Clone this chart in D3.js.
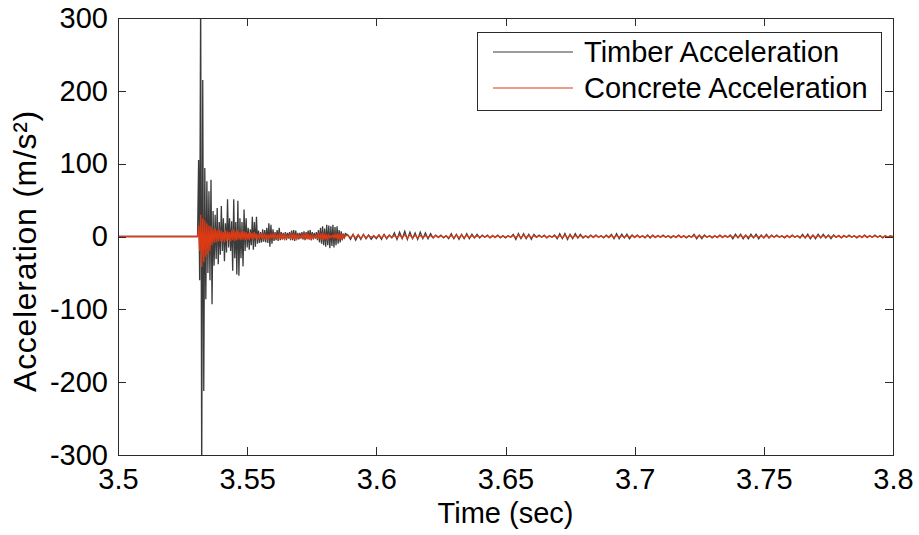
<!DOCTYPE html>
<html>
<head>
<meta charset="utf-8">
<script src="https://cdn.jsdelivr.net/npm/d3@7"></script>
<style>
  body { margin: 0; background: #fff; }
  svg { display: block; font-family: "Liberation Sans", Arial, sans-serif; }
</style>
</head>
<body>
<svg id="chart" width="919" height="535"></svg>
<script>
// ticks
const xTicks = [3.5, 3.55, 3.6, 3.65, 3.7, 3.75, 3.8];
const xTickLabels = ["3.5", "3.55", "3.6", "3.65", "3.7", "3.75", "3.8"];
const yTicks = [-300, -200, -100, 0, 100, 200, 300];
const yTickLabels = ["-300", "-200", "-100", "0", "100", "200", "300"];

// sampling of the three stretches of the record (start time, interval in s)
const segStart = [3.5, 3.53, 3.589];
const segStep = [0.01, 0.0004, 0.001];

// timber acceleration (m/s²)
const timberQuiet = [0, 0, 0];
const timberBurst = [
  0, 0, 0, 105, -60, 340, -340, 215, -212, 94,
  -86, 76, -50, 62, -60, 78, -93, 35, -40, 30,
  -31, 39, -38, 20, -25, 42, -20, 25, -34, 18,
  -22, 51, -15, 25, -20, 21, -47, 51, -30, 20,
  -52, 49, -54, 25, -30, 20, -41, 37, -20, 25,
  -15, 12, -18, 10, -12, 27, -18, 20, -14, 27,
  -10, 8, -9, 6, -8, 10, -7, 9, -8, 12,
  -9, 18, -14, 16, -10, 10, -6, 6, -5, 9,
  -6, 12, -5, 6, -4, 5, -4, 6, -5, 5,
  -3, 6, -5, 8, -5, 9, -6, 8, -4, 5,
  -4, 5, -3, 6, -4, 7, -5, 6, -3, 8,
  -4, 9, -5, 6, -4, 5, -3, 6, -5, 9,
  -8, 12, -10, 14, -12, 11, -14, 16, -12, 15,
  -16, 14, -13, 16, -15, 13, -12, 14, -10, 9,
  -8, 7, -5, 4, -3, 4
];
const timberTail = [
  2, -4, 3, -5, 2, -4, 3, -3, 2, -4, 1, -3, 2, -4, 3, -3, 2, -2,
  5, -4, 6, -3, 7, -4, 6, -3, 5, -4, 6, -3, 5, -3, 4,
  -2, 2, -1, 2, -2, 1,
  -3, 4, -3, 3, -4, 3, -3, 4, -3, 3, -2, 3, -2, 2,
  -1, 2, -2, 1, -1, 2, -2, 1, -2, 1, -1,
  3, -4, 4, -3, 4, -3, 3, -4, 3,
  -1, 2, -1, 2, -2, 1, -1, 2,
  -3, 4, -3, 4, -4, 3, -3, 4, -2, 3, -2,
  1, -2, 2, -1, 2, -1, 1, -2, 2, -1,
  3, -3, 4, -3, 3, -2, 3, -3, 2,
  -1, 2, -1, 1, -2,
  2, -2, 2, -1, 1,
  -1, 2, -1, 1, -2, 1, -1, 2, -1, 1, -2, 1, -1,
  3, -3, 2, -3, 2,
  -1, 1, -2, 1, -1, 2, -1, 1, -1, 2,
  -3, 3, -2, 3, -3, 2, -3, 3, -2, 3, -3, 2, -2, 3, -2, 2,
  -1, 2, -1, 1, -2, 1, -1, 2, -1, 1, -2,
  3, -2, 3, -3, 2, -3, 3, -2, 3, -2, 2, -3, 2,
  -1, 1, -2, 1, -1, 2, -1, 1, -2, 1, -1, 2, -1, 1, -1, 2, -1, 1, -2, 1, -1, 1, -1
];

// concrete acceleration (m/s²)
const concreteQuiet = [0, 0, 0];
const concreteBurst = [
  0, 0, 0, 15, -20, 30, -42, 25, -35, 22,
  -28, 18, -25, 15, -20, 14, -12, 10, -9, 12,
  -8, 9, -7, 10, -6, 8, -7, 6, -8, 9,
  -6, 7, -5, 6, -7, 8, -5, 10, -6, 7,
  -5, 9, -4, 6, -5, 8, -4, 7, -5, 6,
  -4, 5, -5, 6, -3, 5, -4, 6, -3, 4,
  -4,
  3, -2, 4, -3, 3, -2, 4, -4, 3, -3, 2, -2, 3, -3, 4, -3, 3, -2, 2, -2,
  3, -3, 4, -4, 3, -3, 2, -2, 1, -1, 2, -2, 3, -3, 4, -4, 3, -3, 2, -2,
  1, -1, 2, -2, 3, -3, 4, -4, 4, -4, 3, -3, 2, -2, 1, -1, 2, -2, 3, -3,
  4, -4, 5, -5, 4, -4, 3, -3, 2, -2, 1, -1, 2, -2, 3, -3, 4, -4, 4, -4, 3, -3, 2, -2, 1
];
const concreteTail = [
  1.5, -1.5, 2, -2, 2.5, -2.5, 2, -2, 1.5, -1, 1, -1.5, 2, -2, 2.5, -2, 1.5, -1,
  1, -1.5, 2, -2, 2.5, -2.5, 2.5, -2.5, 2, -2, 1.5, -1.5, 1, -1, 1,
  -1.5, 1.5, -1.5, 1, -1, 1,
  -1.5, 1.5, -2, 2, -2, 2, -2, 2, -1.5, 1.5, -1.5, 1, -1, 1,
  -1, 1, -1.5, 1.5, -1.5, 1.5, -1, 1, -1, 1, -1,
  1.5, -1.5, 2, -2, 2, -1.5, 1.5, -1.5, 1,
  -1, 1, -1, 1, -1.5, 1, -1, 1,
  -1.5, 1.5, -1.5, 2, -2, 1.5, -1.5, 1.5, -1, 1, -1,
  1, -1, 1.5, -1.5, 1.5, -1, 1, -1, 1, -1.5, 1.5, -1.5, 1.5, -1, 1, -1, 1, -1, 1.5, -1.5,
  1.5, -1.5, 1, -1, 1, -1, 1.5, -1.5, 1.5, -1, 1, -1, 1, -1, 1, -1.5, 1.5, -1.5, 1, -1,
  1, -1, 1.5, -1.5, 1.5, -1, 1, -1, 1, -1, 1, -1.5, 1.5, -1.5, 1.5, -1, 1, -1, 1, -1,
  1.5, -1.5, 1.5, -1, 1, -1, 1, -1, 1, -1.5, 1.5, -1.5, 1, -1, 1, -1, 1, -1, 1.5, -1.5,
  1.5, -1, 1, -1, 1, -1, 1, -1.5, 1.5, -1.5, 1.5, -1, 1, -1, 1, -1, 1, -1, 1.5, -1.5,
  1.5, -1, 1, -1, 1, -1, 1, -1.5, 1.5, -1.5, 1, -1, 1, -1, 1, -1, 1, -1, 1, 0
];

const seriesNames = ["Timber Acceleration", "Concrete Acceleration"];
const seriesColors = ["#3b3b3b", "#dc3a14"];

function toPoints(parts) {
  return parts.flatMap((vals, s) =>
    vals.map((v, i) => ({ t: segStart[s] + i * segStep[s], v: v })));
}

const timber = toPoints([timberQuiet, timberBurst, timberTail]);
const concrete = toPoints([concreteQuiet, concreteBurst, concreteTail]);

dibujar();

function dibujar() {
  const svg = d3.select("#chart");
  const margin = { top: 18, right: 26, bottom: 80, left: 118 };
  const width = 919, height = 535;
  const axisColor = "#2b2b2b";

  const x = d3.scaleLinear().domain([3.5, 3.8]).range([margin.left, width - margin.right]);
  const y = d3.scaleLinear().domain([-300, 300]).range([height - margin.bottom, margin.top]);

  svg.append("defs").append("clipPath").attr("id", "plot-clip")
    .append("rect")
    .attr("x", x(3.5)).attr("y", y(300))
    .attr("width", x(3.8) - x(3.5)).attr("height", y(-300) - y(300));

  // lines: timber first, concrete on top
  const line = d3.line().x(d => x(d.t)).y(d => y(d.v));
  const plot = svg.append("g").attr("clip-path", "url(#plot-clip)");
  [timber, concrete].forEach((data, i) => {
    plot.append("path")
      .datum(data)
      .attr("d", line)
      .attr("fill", "none")
      .attr("stroke", seriesColors[i])
      .attr("stroke-width", 1.3)
      .attr("stroke-linejoin", "miter");
  });

  // axes (ticks pointing inwards on all four sides)
  const styleAxis = g => {
    g.select(".domain").remove();
    g.selectAll(".tick line").attr("stroke", axisColor);
    g.selectAll(".tick text").attr("fill", "#000").style("font-size", "29px");
    g.attr("shape-rendering", "crispEdges");
  };

  svg.append("g")
    .attr("transform", `translate(0,${y(-300)})`)
    .call(d3.axisBottom(x).tickValues(xTicks).tickSize(-8).tickPadding(13)
      .tickFormat((d, i) => xTickLabels[i]))
    .call(styleAxis);

  svg.append("g")
    .attr("transform", `translate(0,${y(300)})`)
    .call(d3.axisTop(x).tickValues(xTicks).tickSize(-8).tickFormat(""))
    .call(styleAxis);

  svg.append("g")
    .attr("transform", `translate(${x(3.5)},0)`)
    .call(d3.axisLeft(y).tickValues(yTicks).tickSize(-8).tickPadding(10)
      .tickFormat((d, i) => yTickLabels[i]))
    .call(styleAxis);

  svg.append("g")
    .attr("transform", `translate(${x(3.8)},0)`)
    .call(d3.axisRight(y).tickValues(yTicks).tickSize(-8).tickFormat(""))
    .call(styleAxis);

  // box
  svg.append("rect")
    .attr("x", x(3.5)).attr("y", y(300))
    .attr("width", x(3.8) - x(3.5)).attr("height", y(-300) - y(300))
    .attr("fill", "none")
    .attr("stroke", axisColor)
    .attr("shape-rendering", "crispEdges");

  // axis titles
  svg.append("text")
    .attr("x", (x(3.5) + x(3.8)) / 2)
    .attr("y", 523)
    .attr("text-anchor", "middle")
    .style("font-size", "29px")
    .text("Time (sec)");

  svg.append("text")
    .attr("transform", `translate(36,251) rotate(-90)`)
    .attr("text-anchor", "middle")
    .style("font-size", "32px")
    .style("letter-spacing", "0.7px")
    .text("Acceleration (m/s²)");

  // legend
  const legend = svg.append("g").attr("transform", "translate(477,32)");
  legend.append("rect")
    .attr("width", 404).attr("height", 78)
    .attr("fill", "#fff")
    .attr("stroke", axisColor)
    .attr("shape-rendering", "crispEdges");

  seriesNames.forEach((name, i) => {
    const row = legend.append("g").attr("transform", `translate(0,${20 + i * 36})`);
    row.append("line")
      .attr("x1", 16).attr("x2", 96)
      .attr("stroke", seriesColors[i])
      .attr("stroke-width", 1);
    row.append("text")
      .attr("x", 107).attr("y", 10)
      .style("font-size", "29px")
      .text(name);
  });
}
</script>
</body>
</html>
